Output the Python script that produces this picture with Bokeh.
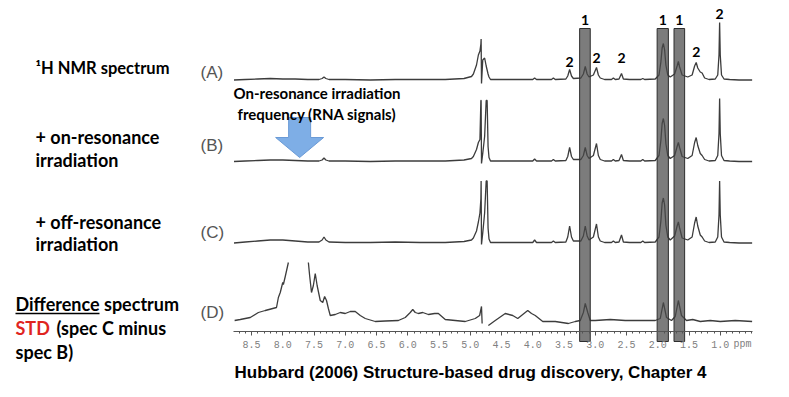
import math
from bokeh.plotting import figure
from bokeh.models import Range1d, LinearAxis, FixedTicker, PrintfTickFormatter, Label
from bokeh.embed import file_html
from bokeh.resources import INLINE
from bokeh.core.properties import value

NaN = float("nan")

# ---------------- data ----------------
# shared chemical-shift grid (ppm) for spectra A, B, C
PPM_ABC = [8.78, 8.6, 8.4, 8.2, 8.0, 7.8, 7.6, 7.42, 7.37, 7.34, 7.31, 7.26, 7.0, 6.6, 6.2, 5.8, 5.4, 5.1, 4.98,
           4.95, 4.90, 4.87, 4.845, 4.83, 4.826, 4.82, 4.80, 4.77, 4.745, 4.73, 4.715, 4.70, 4.676,
           4.60, 4.30, 4.00, 3.97, 3.94, 3.70, 3.67, 3.64,
           3.47, 3.44, 3.41, 3.38, 3.35,
           3.23, 3.19, 3.16, 3.13, 3.10,
           3.03, 2.98, 2.95, 2.92, 2.85,
           2.74, 2.71, 2.68, 2.62, 2.58, 2.55, 2.45,
           2.27, 2.24, 2.21,
           2.04, 1.98, 1.95, 1.93, 1.91, 1.89, 1.87, 1.84, 1.80,
           1.73, 1.69, 1.67, 1.65, 1.61, 1.52,
           1.45, 1.41, 1.385, 1.36, 1.32, 1.29, 1.25, 1.18,
           1.08, 1.04, 1.02, 1.01, 1.00, 0.98, 0.94, 0.85, 0.70, 0.49]

INT_A = [0, 0.5, 1, 1.5, 1, 1, 0.5, 0.5, 1.5, 3, 1.5, 0.5, 0.5, 0, 0.5, 0.5, 0.5, 1.5, 3.5,
         6, 15, 25, 29, 36, 41, -3.5, 20, 22, 14, 10, 6, 3, 0.5,
         0.5, 0.5, 0.5, 2, 0.5, 0.5, 2, 0.5,
         1, 4, 10.5, 4, 1.5,
         2, 6, 13.5, 6, 3,
         5, 12.5, 5, 2, 0.5,
         0.5, 2, 0.5, 1, 6.5, 1, 0.5,
         0.5, 1.5, 0.5,
         1, 5, 18, 32, 36.5, 30, 15, 5, 3,
         6, 14, 18.5, 13, 5, 3,
         5, 14, 17.5, 12, 8, 7, 2, 0.5,
         1, 5, 25, 57.5, 25, 5, 1, 0.5, 0, 0]

INT_B = [0, 0.5, 1, 1.5, 1.5, 1, 0.5, 0.5, 1.5, 3.5, 1.5, 0.5, 0.5, 0, 0.5, 0.5, 0.5, 1.5, 3,
         5, 12, 19, 22, 61, 61, -2, 8, 25, 61, 61, 15, 4, 0.5,
         0.5, 0.5, 0.5, 2.5, 0.5, 0.5, 2, 0.5,
         1, 5, 14, 5, 2,
         2, 6, 14, 6, 3,
         6, 18, 6, 2, 0.5,
         0.5, 2, 0.5, 1, 7, 1, 0.5,
         0.5, 2, 0.5,
         1, 6, 21, 38, 43, 36, 18, 6, 3,
         6, 15, 19, 14, 5, 3,
         6, 19, 24, 16, 8, 6, 2, 0.5,
         1, 6, 28, 63, 28, 6, 1, 0.5, 0, 0]

INT_C = [0, 1, 2, 3, 3, 2, 1, 1, 3, 6, 3, 1, 0.5, 0.5, 1, 0.5, 0.5, 1.5, 3,
         5, 12, 21, 30, 44, 62, -1.5, 10, 30, 62, 62, 15, 4, 0.5,
         0.5, 0.5, 0.5, 3, 0.5, 0.5, 2, 0.5,
         1, 6, 17, 6, 2,
         2, 7, 17, 7, 3,
         6, 19, 6, 2, 0.5,
         0.5, 2, 0.5, 1, 8, 1, 0.5,
         0.5, 2, 0.5,
         1, 6, 22, 40, 45, 38, 18, 6, 3,
         7, 17, 21, 15, 5, 3,
         6, 20, 26, 17, 8, 6, 2, 0.5,
         1, 6, 28, 62, 28, 6, 1, 0.5, 0, 0]

# STD difference spectrum (D); NaN = gaps in the trace
PPM_D = [8.77, 8.68, 8.52, 8.39, 8.28, 8.16, 8.10, 8.07, 8.04, 8.00, 7.99, 7.96, 7.91, NaN,
         7.59, 7.57, 7.54, 7.51, 7.48, 7.45, 7.40, 7.36, 7.33, 7.30, 7.27, 7.24,
         7.16, 7.08, 7.00, 6.92, 6.84, 6.76, 6.68, 6.52, 6.36, 6.15,
         6.04, 5.96, 5.92, 5.88, 5.83, 5.76, 5.67, 5.57, 5.51, 5.40,
         5.24, 5.08, 4.92, 4.85, 4.82, 4.81, NaN,
         4.71, 4.60, 4.44, 4.32, 4.24, 4.16, 4.08, 4.02, 3.96, 3.84,
         3.64, 3.43, 3.32, 3.24, 3.19, 3.16, 3.12, 3.08, 3.00, 2.76,
         2.52, 2.28, 2.04, 1.96, 1.91, 1.86, 1.78, 1.72, 1.67, 1.62,
         1.54, 1.44, 1.32, 1.16, 1.00, 0.76, 0.49]
INT_D = [0, 1, 3, 8, 10, 12, 13, 23, 28, 38, 36, 44, 58, NaN,
         58, 45, 28, 35, 47, 35, 20, 18, 24, 20, 12, 5,
         6, 8, 7, 9, 9, 5, 2, -1, -0.5, 0,
         3, 8, 11, 8, 7, 8, 6, 7, 7, 1,
         0, -1, 2, 5, 14, -3, NaN,
         -5, 0, 7, 5, 2, 6, 10, 7, 5, -1,
         -1, -3, -1, 0, 8, 17, 8, 0, 0, 1,
         0, 0, 0, 2, 18, 3, 0, 4, 20, 5,
         0, 1, -1, 0, -1, 0, -1]

assert len(PPM_ABC) == len(INT_A) == len(INT_B) == len(INT_C)
assert len(PPM_D) == len(INT_D)

# highlighted (STD-active) regions, ppm
BAND_LEFT = [3.25, 2.01, 1.74]
BAND_RIGHT = [3.08, 1.83, 1.57]
BAND_LABELS = ["1", "1", "1"]
# peaks labelled "2"
PEAK2_PPM = [3.41, 2.98, 2.58, 1.385, 1.01]
PEAK2_LABELS = ["2", "2", "2", "2", "2"]

# ppm axis
TICK_PPM = [8.5, 8.0, 7.5, 7.0, 6.5, 6.0, 5.5, 5.0, 4.5, 4.0, 3.5, 3.0, 2.5, 2.0, 1.5, 1.0]
MINOR_PPM = [round(8.7 - 0.1 * i, 1) for i in range(0, 83)]

SPECTRUM_TAGS = ["(A)", "(B)", "(C)", "(D)"]
ON_RES_PPM = 7.73

# ---------------- layout helpers ----------------
W, H = 773, 381
PX_PER_PPM = 62.5
PPM_REF, PX_REF = 8.5, 251     # 8.5 ppm sits 251 px from the left edge


def X(px):  # px from left -> ppm
    return PPM_REF - (px - PX_REF) / PX_PER_PPM


def Y(py):  # px from top -> data y
    return H - py


p = figure(width=W, height=H, output_backend="svg", toolbar_location=None,
           x_range=Range1d(X(0), X(W)), y_range=Range1d(0, H),
           x_axis_type=None, y_axis_type=None, min_border=0)
p.outline_line_color = None
p.grid.visible = False
p.background_fill_color = "white"
p.border_fill_color = "white"

LINE = "#3c3c3c"
BASE = {"A": Y(79.5), "B": Y(161), "C": Y(242.5), "D": Y(320)}

for key, ints in (("A", INT_A), ("B", INT_B), ("C", INT_C)):
    p.line(PPM_ABC, [BASE[key] + v for v in ints], line_color=LINE, line_width=1.3)
p.line(PPM_D, [BASE["D"] + v if not math.isnan(v) else NaN for v in INT_D],
       line_color=LINE, line_width=1.3)

# grey bands
p.quad(left=BAND_LEFT, right=BAND_RIGHT, top=Y(28), bottom=Y(341),
       fill_color="#4a4a4a", fill_alpha=0.72, line_color="#2e2e2e", line_width=1)

bold = value("Lato")
band_mid = [(a + b) / 2 for a, b in zip(BAND_LEFT, BAND_RIGHT)]
p.text(band_mid, [Y(19)] * 3, text=BAND_LABELS, text_font=bold, text_font_style="bold",
       text_font_size="14px", text_align="center", text_baseline="middle", text_color="black")
p.text(PEAK2_PPM, [Y(61), Y(57), Y(57), Y(51), Y(13)], text=PEAK2_LABELS, text_font=bold,
       text_font_style="bold", text_font_size="14px", text_align="center",
       text_baseline="middle", text_color="black")

# ppm axis
ax = LinearAxis(fixed_location=Y(331), bounds=(0.48, 8.79),
                ticker=FixedTicker(ticks=TICK_PPM, minor_ticks=MINOR_PPM),
                formatter=PrintfTickFormatter(format="%.1f"))
ax.axis_line_color = "#555555"
ax.major_tick_line_color = "#555555"
ax.minor_tick_line_color = "#555555"
ax.major_tick_in = 0
ax.major_tick_out = 4
ax.minor_tick_in = 0
ax.minor_tick_out = 2
ax.major_label_standoff = 5
ax.major_label_text_font = "Liberation Mono"
ax.major_label_text_font_size = "10px"
ax.major_label_text_color = "#808080"
p.add_layout(ax, "below")


def label(txt, px, py, size, color="black", font="Lato", style="bold", align="left"):
    p.add_layout(Label(x=X(px), y=Y(py), text=txt, text_font=font, text_font_size=size,
                       text_font_style=style, text_color=color, text_baseline="middle",
                       text_align=align))


label("ppm", 742, 344, "10px", color="#808080", font="Liberation Mono", style="normal",
      align="center")

# left-hand descriptions
label("\u00b9H NMR spectrum", 35, 67, "16.5px")
label("+ on-resonance", 35, 136, "18px")
label("irradiation", 35, 159, "18px")
label("+ off-resonance", 35, 221, "18px")
label("irradiation", 35, 243, "18px")
label("Difference spectrum", 15, 303, "18px")
p.segment(x0=[X(15)], y0=[Y(313)], x1=[X(99)], y1=[Y(313)], line_color="black", line_width=1.3)
label("STD", 15, 327, "18px", color="#e0251f")
label("(spec C minus", 56, 327, "18px")
label("spec B)", 15, 351, "18px")

for tag, py in zip(SPECTRUM_TAGS, [72, 145, 232, 312]):
    label(tag, 200, py, "17px", color="#555555", font="Liberation Sans", style="normal")

label("On-resonance irradiation", 233, 92, "15px")
label("frequency (RNA signals)", 237, 113, "15px")

# blue arrow pointing at the on-resonance frequency
dx = 1.0 / PX_PER_PPM
ar_x = [ON_RES_PPM + 11 * dx, ON_RES_PPM - 11 * dx, ON_RES_PPM - 11 * dx, ON_RES_PPM - 24 * dx,
        ON_RES_PPM, ON_RES_PPM + 24 * dx, ON_RES_PPM + 11 * dx]
ar_y = [Y(117), Y(117), Y(137), Y(137), Y(157), Y(137), Y(137)]
p.patch(ar_x, ar_y, fill_color="#7eaee6", line_color="#6a9ad6", line_width=1)

label("Hubbard (2006) Structure-based drug discovery, Chapter 4", 234, 372, "17px",
      font="Liberation Sans", style="bold")

open("out.html", "w").write(file_html(p, INLINE))
